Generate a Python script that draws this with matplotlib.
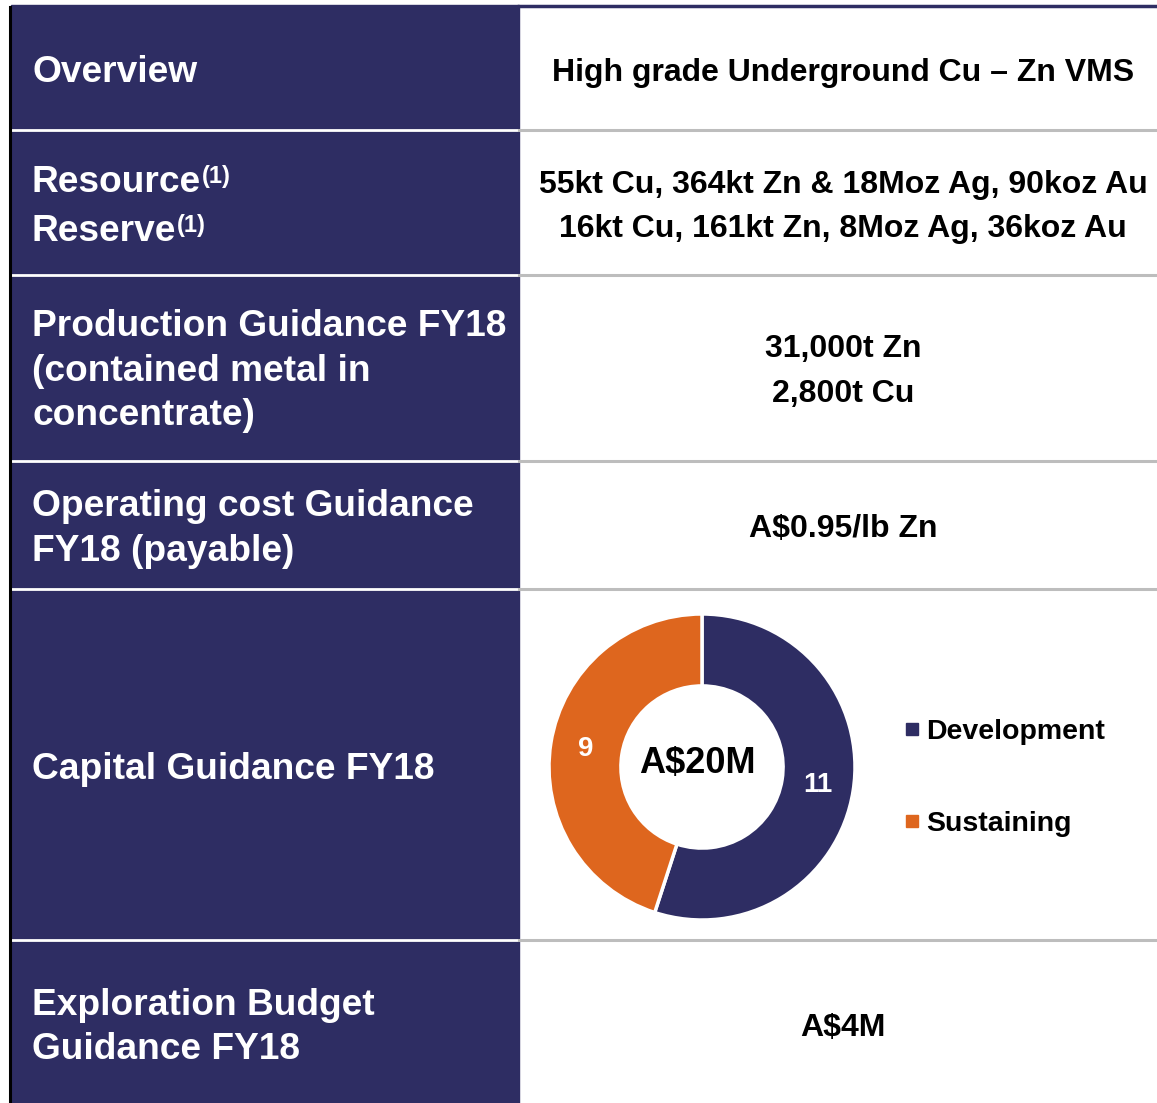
import matplotlib.pyplot as plt
from matplotlib.lines import Line2D

# ----------------------
# Data
# ----------------------
row_titles = [
    ["Overview"],
    ["Resource", "Reserve"],
    ["Production Guidance FY18", "(contained metal in", "concentrate)"],
    ["Operating cost Guidance", "FY18 (payable)"],
    ["Capital Guidance FY18"],
    ["Exploration Budget", "Guidance FY18"],
]
row_values = [
    ["High grade Underground Cu \u2013 Zn VMS"],
    ["55kt Cu, 364kt Zn & 18Moz Ag, 90koz Au", "16kt Cu, 161kt Zn, 8Moz Ag, 36koz Au"],
    ["31,000t Zn", "2,800t Cu"],
    ["A\\$0.95/lb Zn"],
    [],
    ["A\\$4M"],
]
capex_names = ["Development", "Sustaining"]
capex_values = [11, 9]
capex_total = "A\\$20M"

# ----------------------
# Layout (pixels, baselines)
# ----------------------
W, H = 1157, 1103
row_edges = [5, 130, 275, 461, 589, 940, 1103]
title_y = [[82], [192, 241], [336, 381, 425], [516, 561], [779], [1015, 1059]]
value_y = [[81], [193, 237], [357, 402], [537], [], [1036]]
col_split = 519
navy = "#2E2D63"
orange = "#DE661E"

plt.rcParams['font.family'] = ['Liberation Sans', 'DejaVu Sans']

fig = plt.figure(figsize=(W / 100, H / 100), dpi=100)
ax = fig.add_axes([0, 0, 1, 1])
ax.set_xlim(0, W)
ax.set_ylim(H, 0)
ax.axis('off')

# left navy column
ax.add_patch(plt.Rectangle((11, 5), col_split - 11, H - 5, color=navy, zorder=1))
ax.plot([10, 10], [7, H], color='black', lw=2.2, zorder=3)
ax.plot([col_split, W], [6, 6], color=navy, lw=2.5, zorder=3)

for y in row_edges[1:-1]:
    ax.plot([11, col_split], [y, y], color='white', lw=2, zorder=2)
    ax.plot([col_split, W], [y, y], color='#BDBDBD', lw=2.2, zorder=2)

# left titles
for lines, ys in zip(row_titles, title_y):
    for txt, y in zip(lines, ys):
        t = ax.text(32, y, txt, color='white', fontsize=26.7, fontweight='bold',
                    va='baseline', ha='left', zorder=4)
        if txt in ("Resource", "Reserve"):
            ax.annotate("(1)", xy=(1.0, 1.0), xycoords=t, xytext=(0.5, 0),
                        textcoords='offset points', color='white', fontsize=17,
                        fontweight='bold', va='top', ha='left', zorder=4)

# right values
for lines, ys in zip(row_values, value_y):
    for txt, y in zip(lines, ys):
        ax.text(843, y, txt, color='black', fontsize=23, fontweight='bold',
                va='baseline', ha='center', zorder=4)

# donut
cx, cy, r = 702, 767, 153
pax = fig.add_axes([(cx - r) / W, 1 - (cy + r) / H, 2 * r / W, 2 * r / H])
total = sum(capex_values)
wedges, _, autotexts = pax.pie(
    capex_values, colors=[navy, orange], startangle=90, counterclock=False,
    wedgeprops=dict(width=0.47, edgecolor='white', linewidth=2.5),
    autopct=lambda p: f"{round(p * total / 100):d}", pctdistance=0.77,
    textprops=dict(color='white', fontsize=20, fontweight='bold'))
pax.set_xlim(-1, 1)
pax.set_ylim(-1, 1)
pax.text(-0.03, -0.04, capex_total, ha='center', va='baseline', fontsize=26,
         fontweight='bold', color='black')

handles = [Line2D([], [], marker='s', ls='none', color=c, markersize=8)
           for c in [navy, orange]]
fig.legend(handles, capex_names, loc='center left',
           bbox_to_anchor=(875 / W, 1 - 778 / H), frameon=False,
           prop=dict(size=20.5, weight='bold'), handletextpad=0.1,
           labelspacing=2.3, handlelength=0.8)

fig.savefig("out.png", dpi=100)
